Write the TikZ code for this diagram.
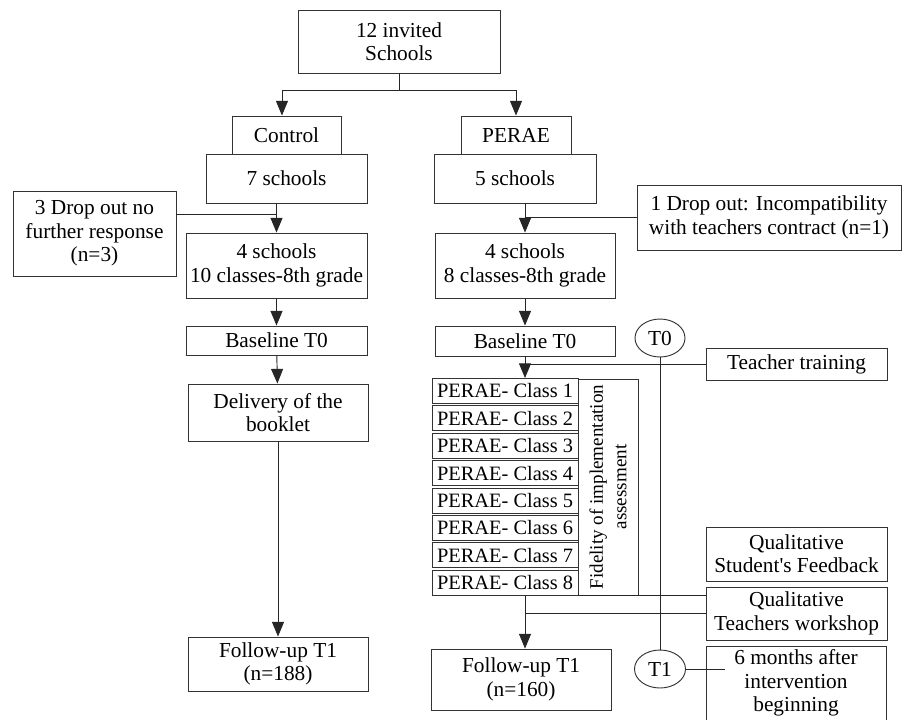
\documentclass[tikz,border=0pt]{standalone}
\usepackage{fontspec}
\setmainfont{Liberation Serif}[Ligatures=TeXOff]
\usetikzlibrary{arrows.meta, shapes.geometric}
\tikzset{
    sz/.style 2 args={minimum width=#1*0.75pt, minimum height=#2*0.75pt},
    box/.style={draw=black!80, line width=0.7pt, rectangle, inner sep=0pt, align=center,
        font=\fontsize{16}{17.5}\selectfont},
    classbox/.style={box, font=\fontsize{15.3}{17.5}\selectfont},
    oval/.style={draw=black!80, line width=0.7pt, ellipse, inner sep=0pt,
        font=\fontsize{16}{17.5}\selectfont},
    link/.style={draw=black!85, line width=0.7pt},
    arr/.style={link, -{Triangle[length=11pt,width=9pt]}},
}

\begin{document}
\begin{tikzpicture}[x=0.75pt, y=-0.75pt]
    \useasboundingbox (0,0) rectangle (902,719);

    % control arm
    \node[box, sz={202}{63}] (invited) at (399, 41.5) {12 invited\\Schools};
    \node[box, sz={109}{38}] (control) at (286.5, 135) {Control};
    \node[box, sz={161}{49}] (sevenS) at (286.5, 178.5) {7 schools};
    \node[box, sz={163}{85}] (dropC) at (94.5, 233.5) {3 Drop out no\\further response\\(n=3)};
    \node[box, sz={181}{65}] (fourC) at (276.5, 265.5) {4 schools\\10 classes-8th grade};
    \node[box, sz={181}{29}] (baseC) at (276.5, 340.5) {Baseline T0};
    \node[box, sz={180}{57}] (booklet) at (278, 412.5) {Delivery of the\\booklet};
    \node[box, sz={180}{54}] (followC) at (278, 664) {Follow-up T1\\(n=188)};

    % PERAE arm
    \node[box, sz={110}{38}] (perae) at (516, 135) {PERAE};
    \node[box, sz={162}{49}] (fiveS) at (515, 178.5) {5 schools};
    \node[box, sz={264}{65}] (dropP) at (769, 217.5) {1 Drop out: Incompatibility\\with teachers contract (n=1)};
    \node[box, sz={180}{65}] (fourP) at (525, 265.5) {4 schools\\8 classes-8th grade};
    \node[box, sz={180}{30}] (baseP) at (525, 341) {Baseline T0};
    \foreach \i in {1,...,8}{
        \node[classbox, sz={146}{25}] (C\i) at (505, {391+27.4*(\i-1)}) {PERAE- Class \i};
    }
    \node[box, sz={216}{60}, rotate=90, font=\fontsize{14.3}{17.5}\selectfont] (fidelity) at (608, 487)
        {Fidelity of implementation\\assessment};
    \node[box, sz={180}{61}] (followP) at (521, 679.5) {Follow-up T1\\(n=160)};

    % time line
    \node[oval, sz={50}{38}] (T0) at (660, 338) {T0};
    \node[oval, sz={51}{38}] (T1) at (660, 669) {T1};
    \node[box, sz={181}{32}] (training) at (796.5, 364) {Teacher training};
    \node[box, sz={181}{54}] (feedback) at (796.5, 554) {Qualitative\\Student's Feedback};
    \node[box, sz={181}{53}] (workshop) at (796.5, 613.5) {Qualitative\\Teachers workshop};
    \node[box, sz={180}{74}] (months) at (796, 683) {6 months after\\intervention\\beginning};

    \coordinate (split) at (399, 90);
    \coordinate (joinC) at (277, 214);
    \coordinate (monthsIn) at (725, 669);

    % connectors
    \draw[link] (invited.south) -- (split);
    \draw[arr] (split) -| ([xshift=-3.4pt]control.north);
    \draw[arr] (split) -| (perae.north);
    \draw[arr] (sevenS.south -| fourC.north) -- (fourC.north);
    \draw[link] (dropC.east |- joinC) -- (joinC);
    \draw[arr] (fourC) -- (baseC);
    \draw[arr] (baseC) -- (booklet);
    \draw[arr] (booklet) -- (followC);

    \draw[arr] (fiveS.south -| fourP.north) -- (fourP.north);
    \draw[link] (dropP.west) -- (dropP.west -| fourP.north);
    \draw[arr] (fourP) -- (baseP);
    \draw[arr] (baseP.south) -- (baseP.south |- C1.north);
    \draw[link] (training.west) -- (training.west -| baseP.south);
    \draw[arr] (baseP.south |- C8.south) -- (baseP.south |- followP.north);
    \draw[link] (C8.south east) -- (C8.south east -| workshop.west);
    \draw[link] (workshop.west) -- (workshop.west -| baseP.south);

    \draw[link] (T0.south) -- (T1.north);
    \draw[link] (T1.east) -- (monthsIn);
\end{tikzpicture}
\end{document}
